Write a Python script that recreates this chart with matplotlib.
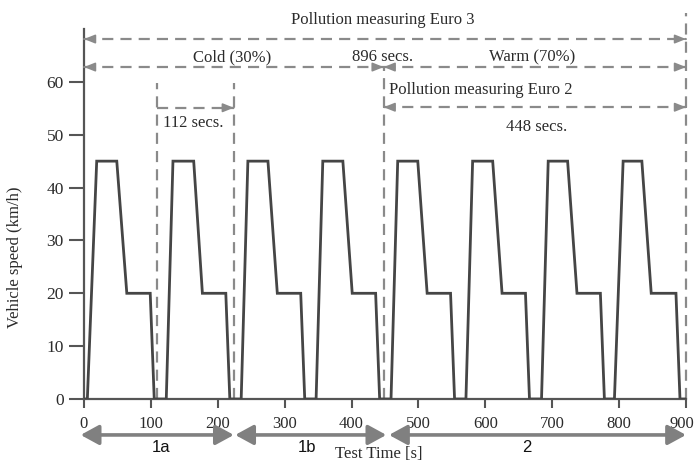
import matplotlib
matplotlib.use("Agg")
import matplotlib.pyplot as plt
from matplotlib.transforms import ScaledTranslation

# ---- data ----
speed_time = [0, 5, 19, 49, 64, 99, 105,
              123, 133, 164, 177, 212, 218,
              235, 245, 275, 289, 324, 330,
              347, 357, 387, 401, 436, 442,
              459, 469, 499, 513, 548, 554,
              571, 581, 611, 625, 660, 666,
              684, 694, 723, 737, 772, 778,
              793, 806, 834, 848, 885, 891, 900]
speed_kmh = [0, 0, 45, 45, 20, 20, 0,
             0, 45, 45, 20, 20, 0,
             0, 45, 45, 20, 20, 0,
             0, 45, 45, 20, 20, 0,
             0, 45, 45, 20, 20, 0,
             0, 45, 45, 20, 20, 0,
             0, 45, 45, 20, 20, 0,
             0, 45, 45, 20, 20, 0, 0]

x_ticks = [0, 100, 200, 300, 400, 500, 600, 700, 800, 900]
y_ticks = [0, 10, 20, 30, 40, 50, 60]

phase_labels = ["1a", "1b", "2"]
phase_start = [-5, 226, 456]
phase_end = [224, 452, 900]

cold_end = 448
cycle_end = 224
cycle_start = 112
test_end = 900

LINE = "#454545"
GRAY = "#8a8a8a"
TXT = "#2b2b2b"
SERIF = "Liberation Serif"

fig = plt.figure(figsize=(6.97, 4.63), dpi=100)
ax = fig.add_axes([84 / 697, 1 - 399 / 463, 602 / 697, 370 / 463])

ax.plot(speed_time, speed_kmh, color=LINE, lw=2.0, solid_joinstyle="miter", zorder=3)

ax.set_xlim(0, 900)
ax.set_ylim(0, 70)
for s in ["top", "right"]:
    ax.spines[s].set_visible(False)
for s in ["left", "bottom"]:
    ax.spines[s].set_color("#555555")
    ax.spines[s].set_linewidth(1.6)

ax.set_xticks(x_ticks)
ax.set_xticklabels([str(v) for v in x_ticks], fontfamily=SERIF, fontsize=12, color=TXT)
ax.set_yticks(y_ticks)
ax.set_yticklabels([str(v) for v in y_ticks], fontfamily=SERIF, fontsize=12.5, color=TXT)
ax.tick_params(axis="x", length=6.5, width=1.5, color="#555555", pad=6)
ax.tick_params(axis="y", length=11, width=1.5, color="#555555", pad=3.5)

last = ax.get_xticklabels()[-1]
last.set_transform(last.get_transform() + ScaledTranslation(-4 / 100, 0, fig.dpi_scale_trans))

ax.set_ylabel("Vehicle speed (km/h)", fontfamily=SERIF, fontsize=12, color=TXT)
ax.yaxis.set_label_coords(-0.101, 0.384)

DASH = (0, (5, 3.2))


def vdash(x, ytop):
    ax.plot([x, x], [0, ytop], color=GRAY, lw=1.6, ls=DASH, clip_on=False, zorder=2)


def head(xtip, y, direction):
    ax.annotate("", xy=(xtip, y), xytext=(xtip - direction * 0.5, y),
                arrowprops=dict(arrowstyle="-|>,head_length=0.55,head_width=0.22",
                                color=GRAY, lw=1.2, shrinkA=0, shrinkB=0,
                                mutation_scale=12),
                annotation_clip=False)


def hdash(x0, x1, y, left=True, right=True):
    ax.plot([x0, x1], [y, y], color=GRAY, lw=1.6, ls=DASH, clip_on=False, zorder=2)
    if left:
        head(x0, y, -1)
    if right:
        head(x1, y, 1)


# vertical markers
vdash(test_end, 73)
vdash(cold_end, 62.8)
vdash(cycle_start - 3, 59.8)
vdash(cycle_end, 59.8)

# horizontal arrows
hdash(0, test_end, 68.1)
hdash(0, cold_end, 62.8)
hdash(cold_end, test_end, 62.8)
hdash(cold_end, test_end, 55.2)
hdash(cycle_start - 3, cycle_end, 55.1, left=False)

tk = dict(fontfamily=SERIF, fontsize=12, color=TXT, ha="center", va="center", clip_on=False)
ax.text(447, 71.7, "Pollution measuring Euro 3", **tk)
ax.text(221, 64.7, "Cold (30%)", **tk)
ax.text(447, 64.7, "896 secs.", **tk)
ax.text(670, 64.7, "Warm (70%)", **tk)
ax.text(456, 58.5, "Pollution measuring Euro 2", fontfamily=SERIF, fontsize=12,
        color=TXT, ha="left", va="center", clip_on=False)
ax.text(677, 51.5, "448 secs.", **tk)
ax.text(163, 52.2, "112 secs.", **tk)

# bottom phase arrows
for lab, x0, x1 in zip(phase_labels, phase_start, phase_end):
    ax.annotate("", xy=(x1, -6.8), xytext=(x0, -6.8),
                arrowprops=dict(arrowstyle="<|-|>,head_length=0.55,head_width=0.3",
                                color="#808080", lw=2.6, shrinkA=0, shrinkB=0,
                                mutation_scale=20),
                annotation_clip=False)
label_x = [115, 334, 662]
for lab, lx in zip(phase_labels, label_x):
    ax.text(lx, -9.1, lab, fontfamily="Liberation Sans", fontsize=12, color="#111111",
            ha="center", va="center", clip_on=False)

ax.text(440, -10.4, "Test Time [s]", fontfamily=SERIF, fontsize=12, color=TXT,
        ha="center", va="center", clip_on=False)

fig.savefig("out.png", dpi=100)
